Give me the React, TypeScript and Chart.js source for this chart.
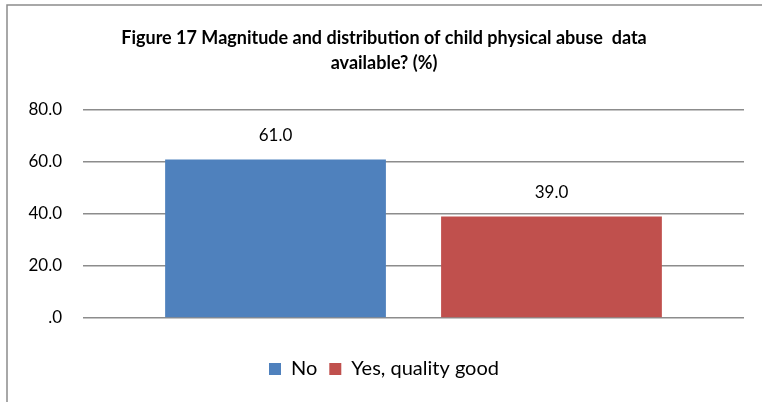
import React, { useEffect, useRef } from "react";
import { Chart, registerables } from "chart.js";

Chart.register(...registerables);

const categories: string[] = [""];
const seriesNames: string[] = ["No", "Yes, quality good"];
const noValues: number[] = [61.0];
const yesValues: number[] = [39.0];
const seriesColors: string[] = ["#4F81BD", "#C0504D"];
const titleLines: string[] = [
  "Figure 17 Magnitude and distribution of child physical abuse  data",
  "available? (%)",
];
const yTicks: number[] = [0, 20, 40, 60, 80];

const FONT = "Lato, 'Open Sans', sans-serif";

const borderPlugin = {
  id: "frameBorder",
  beforeDraw(chart: any) {
    const ctx = chart.ctx;
    ctx.save();
    ctx.strokeStyle = "#8c8c8c";
    ctx.lineWidth = 1.5;
    ctx.beginPath();
    ctx.moveTo(7, chart.height);
    ctx.lineTo(7, 5);
    ctx.lineTo(chart.width, 5);
    ctx.stroke();
    ctx.restore();
  },
};

const valueLabelPlugin = {
  id: "valueLabels",
  afterDatasetsDraw(chart: any) {
    const ctx = chart.ctx;
    ctx.save();
    ctx.fillStyle = "#000";
    ctx.font = `17px ${FONT}`;
    ctx.textAlign = "center";
    ctx.textBaseline = "middle";
    chart.data.datasets.forEach((ds: any, i: number) => {
      const meta = chart.getDatasetMeta(i);
      meta.data.forEach((bar: any, j: number) => {
        const v = ds.data[j];
        ctx.fillText(Number(v).toFixed(1), bar.x, bar.y - 24);
      });
    });
    ctx.restore();
  },
};

export default function App() {
  const ref = useRef<HTMLCanvasElement | null>(null);
  useEffect(() => {
    if (!ref.current) return;
    const chart = new Chart(ref.current, {
      type: "bar",
      data: {
        labels: categories,
        datasets: [
          {
            label: seriesNames[0],
            data: noValues,
            backgroundColor: seriesColors[0],
            categoryPercentage: 0.835,
            barPercentage: 0.8,
          },
          {
            label: seriesNames[1],
            data: yesValues,
            backgroundColor: seriesColors[1],
            categoryPercentage: 0.835,
            barPercentage: 0.8,
          },
        ],
      },
      options: {
        animation: false,
        responsive: false,
        maintainAspectRatio: false,
        layout: { padding: { left: 24, right: 18, top: 0, bottom: 13 } },
        scales: {
          x: {
            display: true,
            ticks: { display: false },
            grid: { display: false, drawTicks: false },
            border: { display: false },
            afterFit: (s: any) => {
              s.height = 29;
            },
          },
          y: {
            min: 0,
            max: 80,
            afterBuildTicks: (s: any) => {
              s.ticks = yTicks.map((v) => ({ value: v }));
            },
            ticks: {
              padding: 21,
              color: "#000",
              font: { family: FONT, size: 17 },
              callback: (v: any) => (Number(v) === 0 ? ".0" : Number(v).toFixed(1)),
            },
            grid: { color: "#8c8c8c", lineWidth: 1.5, drawTicks: false },
            border: { display: false },
            afterFit: (s: any) => {
              s.width = 59;
            },
          },
        },
        plugins: {
          title: {
            display: true,
            text: titleLines,
            color: "#000",
            font: { family: FONT, size: 18, weight: "bold", lineHeight: 25 / 18 },
            padding: { top: 25.5, bottom: 34.5 },
          },
          legend: {
            display: true,
            position: "bottom",
            labels: {
              color: "#000",
              font: { family: FONT, size: 20 },
              boxWidth: 12,
              boxHeight: 12,
              padding: 12,
            },
          },
          tooltip: { enabled: false },
        },
      },
      plugins: [borderPlugin, valueLabelPlugin],
    });
    return () => chart.destroy();
  }, []);
  return (
    <div style={{ position: "fixed", left: 0, top: 0, width: 762, height: 402, background: "#fff" }}>
      <canvas ref={ref} width={762} height={402} style={{ width: 762, height: 402 }} />
    </div>
  );
}
